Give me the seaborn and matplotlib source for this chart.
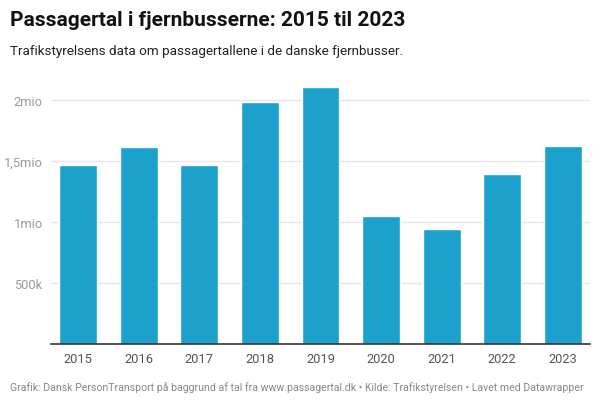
import pandas as pd
import matplotlib.pyplot as plt
import seaborn as sns

# Passagertal i fjernbusserne (mio.)
years = ['2015', '2016', '2017', '2018', '2019', '2020', '2021', '2022', '2023']
passengers = [1.467, 1.615, 1.465, 1.98, 2.107, 1.049, 0.94, 1.396, 1.62]
tick_values = [0.5, 1.0, 1.5, 2.0]
tick_labels = ['500k', '1mio', '1,5mio', '2mio']

df = pd.DataFrame({'year': years, 'passengers': passengers})

sns.set_style('white')
plt.rcParams['font.family'] = ['Roboto', 'DejaVu Sans']

fig = plt.figure(figsize=(6, 4.06), dpi=100)
ax = fig.add_axes([51 / 600, 1 - 345 / 406, 539 / 600, 280 / 406])

sns.barplot(data=df, x='year', y='passengers', color='#1ba1cc', width=0.625,
            saturation=1, ax=ax, zorder=3)

ax.set_xlim(-0.45, 8.45)
ax.set_ylim(0, 2.295)
ax.set_yticks(tick_values)
ax.set_yticklabels(tick_labels)
ax.grid(axis='y', color='#e6e6e6', linewidth=1, zorder=0)
ax.set_xlabel('')
ax.set_ylabel('')
sns.despine(ax=ax, left=True, top=True, right=True)
ax.spines['bottom'].set_color('#333333')
ax.spines['bottom'].set_linewidth(1.2)
ax.spines['bottom'].set_zorder(4)
ax.tick_params(axis='y', length=0, pad=6, labelsize=9.3, labelcolor='#9a9a9a')
ax.tick_params(axis='x', length=0, pad=6, labelsize=9.3, labelcolor='#555555')

fig.text(10 / 600, 1 - 20 / 406, 'Passagertal i fjernbusserne: 2015 til 2023',
         fontsize=15, fontweight='bold', color='#111111', va='center', ha='left')
fig.text(10 / 600, 1 - 52 / 406,
         'Trafikstyrelsens data om passagertallene i de danske fjernbusser.',
         fontsize=9.7, color='#222222', va='center', ha='left')
fig.text(10 / 600, 1 - 388 / 406,
         'Grafik: Dansk PersonTransport på baggrund af tal fra www.passagertal.dk \u2022 '
         'Kilde: Trafikstyrelsen \u2022 Lavet med Datawrapper',
         fontsize=7.6, color='#888888', va='center', ha='left')

plt.savefig('out.png', dpi=100)
